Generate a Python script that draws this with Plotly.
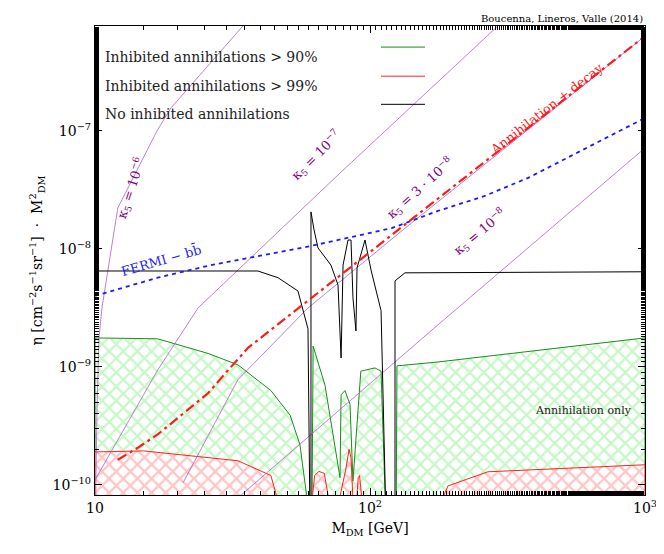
import plotly.graph_objects as go
import numpy as np

# ---- data ----
no_inh_M = [10, 39.1, 46.3, 54.7, 59.5, 60.5, 61.0, 61.0, 62.6, 64.7, 72.1, 76.5, 78.5, 79.8, 83.2, 85.3, 86.7, 88.9, 89.7,
            95.9, 100.9, 109.7, 114.3, 123.3, 123.3, 134, 1000]
no_inh_eta = [6.5e-9, 6.5e-9, 5.7e-9, 4.4e-9, 2.1e-9, 5e-11, 5e-11, 2.06e-8, 1.45e-8, 1.02e-8, 7.3e-9, 4.95e-9, 1.19e-9, 7.3e-9,
              1.19e-8, 1.19e-8, 3.85e-9, 2.02e-9, 6.9e-9, 1.19e-8, 6.6e-9, 3.0e-9, 5e-11, 5e-11, 5.36e-9, 6.27e-9, 6.4e-9]

inh90_M = [10, 16.9, 25.8, 33.1, 43.6, 51.2, 55.6, 60.5, 61.5, 62.1, 68.6, 77.8, 78.5, 81.1, 84.6, 86.7, 92.6, 104.2, 109.7,
           114.3, 124.5, 125.3, 176.6, 1000]
inh90_eta = [1.76e-9, 1.73e-9, 1.3e-9, 1.04e-9, 6.3e-10, 3.9e-10, 2.2e-10, 5e-11, 5e-11, 1.5e-9, 7.0e-10, 1.15e-10, 5.8e-10,
             6.3e-10, 4.8e-10, 1.08e-10, 9.2e-10, 9.8e-10, 9.2e-10, 5e-11, 5e-11, 1.02e-9, 1.1e-9, 1.76e-9]

inh99_M = [10, 15, 33.1, 43.6, 48.4, 60.5, 62.9, 65.2, 68.2, 73.0, 74.5, 81.9, 83.9, 85.3, 87.4, 88.3, 90.6, 91.6, 95.0,
           169.4, 192.2, 268.4, 1000]
inh99_eta = [1.9e-10, 1.94e-10, 1.6e-10, 1.2e-10, 5e-11, 5e-11, 1.2e-10, 1.3e-10, 1.25e-10, 5e-11, 5e-11, 1.4e-10, 2.0e-10,
             1.7e-10, 5e-11, 5e-11, 1.15e-10, 1.2e-10, 5e-11, 5e-11, 9.8e-11, 1.29e-10, 1.48e-10]

decay_M = [12.1, 14.3, 17.0, 20.0, 25.8, 30.0, 36.0, 59.5, 137.4, 1000]
decay_eta = [1.63e-10, 2.06e-10, 2.7e-10, 3.7e-10, 6.0e-10, 9.0e-10, 1.45e-9, 3.64e-9, 1.68e-8, 6.38e-7]

fermi_M = [10, 16.9, 25.8, 61.0, 120, 176.6, 260, 375.8, 1000]
fermi_eta = [4.0e-9, 5.7e-9, 7.2e-9, 1.06e-8, 1.5e-8, 2.1e-8, 2.8e-8, 4.0e-8, 1.29e-7]

k6_M = [10.05, 10.17, 10.34, 10.6, 12.1, 16.8, 18.9, 25.8, 34.5]
k6_eta = [7e-11, 4.5e-10, 1.76e-9, 3.16e-9, 2.22e-8, 1e-7, 1.57e-7, 3.62e-7, 7.76e-7]
k7_M = [10, 16.9, 23.7, 76.5, 291.7]
k7_eta = [1.1e-10, 9.4e-10, 3.16e-9, 4.24e-8, 7.76e-7]
k38_M = [20.9, 33.1, 59.5, 137.4, 1000]
k38_eta = [1.04e-10, 7.8e-10, 3.16e-9, 1.57e-8, 6.38e-7]
k8_M = [32.0, 34.0, 54.7, 176.6, 1000]
k8_eta = [7e-11, 8.2e-11, 2.14e-10, 2.27e-9, 7.18e-8]

FLOOR = 1e-11
FONT = "DejaVu Serif"

fig = go.Figure()

def filled(M, eta, line_col, fg, name):
    xs = [M[0]] + list(M) + [M[-1]]
    ys = [FLOOR] + list(eta) + [FLOOR]
    fig.add_trace(go.Scatter(x=xs, y=ys, mode="lines", fill="toself", fillcolor="white",
                             fillpattern=dict(shape="x", fgcolor=fg, bgcolor="white", size=10, solidity=0.4),
                             line=dict(color=line_col, width=1), name=name, showlegend=False))

filled(inh90_M, inh90_eta, "#1a8c1a", "#8ff08f", "90")
filled(inh99_M, inh99_eta, "#ff2020", "#ff8a8a", "99")

purple = "#b060c0"
for M, e in [(k6_M, k6_eta), (k7_M, k7_eta), (k38_M, k38_eta), (k8_M, k8_eta)]:
    fig.add_trace(go.Scatter(x=M, y=e, mode="lines", line=dict(color=purple, width=0.8), showlegend=False))

fig.add_trace(go.Scatter(x=no_inh_M, y=no_inh_eta, mode="lines", line=dict(color="black", width=1), showlegend=False))
fig.add_trace(go.Scatter(x=fermi_M, y=fermi_eta, mode="lines", line=dict(color="#1a1aff", width=1.8, dash="4px,4px"),
                         showlegend=False))
fig.add_trace(go.Scatter(x=decay_M, y=decay_eta, mode="lines", line=dict(color="#ff1a1a", width=2.2, dash="10px,4px,3px,4px"),
                         showlegend=False))

# legend (in-plot text + samples)
leg = [("Inhibited annihilations > 90%", "#1a8c1a", 0.955), ("Inhibited annihilations > 99%", "#ff2020", 0.893),
       ("No inhibited annihilations", "black", 0.833)]
for txt, col, yy in leg:
    fig.add_annotation(xref="paper", yref="paper", x=0.015, y=yy, text=txt, showarrow=False, xanchor="left",
                       font=dict(family=FONT, size=14, color="#222"))
    fig.add_shape(type="line", xref="paper", yref="paper", x0=0.52, x1=0.6, y0=yy, y1=yy,
                  line=dict(color=col, width=1))

def lab(x, y, t, col, ang, size=13):
    fig.add_annotation(x=np.log10(x), y=np.log10(y), text=t, showarrow=False, textangle=ang,
                       font=dict(family=FONT, size=size, color=col))

lab(13.5, 3.3e-8, "κ<sub>5</sub> = 10<sup>−6</sup>", "#800080", -72)
lab(64, 6.2e-8, "κ<sub>5</sub> = 10<sup>−7</sup>", "#800080", -45)
lab(152, 3.3e-8, "κ<sub>5</sub> = 3 · 10<sup>−8</sup>", "#800080", -42)
lab(250, 1.4e-8, "κ<sub>5</sub> = 10<sup>−8</sup>", "#800080", -40)
lab(17.5, 8.0e-9, "FERMI − bb̄", "#1a1aff", -16)
lab(440, 1.55e-7, "Annihilation + decay", "#ff1a1a", -38)
lab(600, 4.3e-10, "Annihilation only", "#222", 0, 11)
fig.add_annotation(xref="paper", yref="paper", x=1.0, y=1.0, yanchor="bottom", xanchor="right",
                   text="Boucenna, Lineros, Valle (2014)", showarrow=False, font=dict(family=FONT, size=10, color="black"))

axis_common = dict(type="log", showgrid=False, ticks="inside", mirror="allticks", showline=True, linecolor="black",
                   linewidth=1.2, ticklen=7, tickcolor="black", tickfont=dict(family=FONT, size=14, color="black"),
                   minor=dict(ticks="inside", ticklen=4, tickcolor="black"), zeroline=False)
fig.update_xaxes(**axis_common, range=[1, 3], tickvals=[10, 100, 1000],
                 ticktext=["10", "10<sup>2</sup>", "10<sup>3</sup>"],
                 title=dict(text="M<sub>DM</sub> [GeV]", font=dict(family=FONT, size=14, color="black"), standoff=8))
fig.update_yaxes(**axis_common, range=[np.log10(8.2e-11), np.log10(7.76e-7)], tickvals=[1e-10, 1e-9, 1e-8, 1e-7],
                 ticktext=["10<sup>−10</sup>", "10<sup>−9</sup>", "10<sup>−8</sup>", "10<sup>−7</sup>"],
                 title=dict(text="η [cm<sup>−2</sup>s<sup>−1</sup>sr<sup>−1</sup>]  ·  M<sup>2</sup><sub>DM</sub>",
                            font=dict(family=FONT, size=14, color="black"), standoff=6))
fig.update_layout(width=664, height=554, margin=dict(l=87, r=27, t=18, b=67), plot_bgcolor="white",
                  paper_bgcolor="white", showlegend=False)
fig.write_html("out.html")
